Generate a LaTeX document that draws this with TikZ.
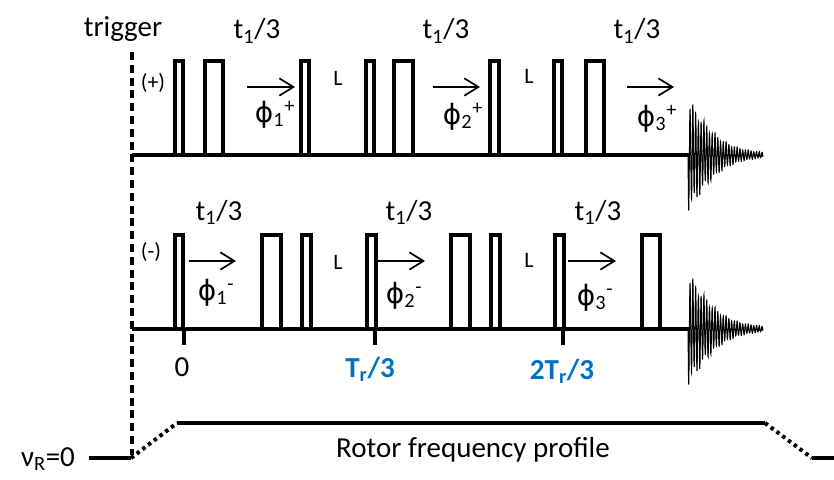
\documentclass[tikz,border=0pt]{standalone}
\usepackage{fontspec}
\setmainfont{Carlito}
\newfontfamily\phifont{DejaVu Sans}
\usetikzlibrary{arrows.meta,calc}

\definecolor{trblue}{HTML}{0070C0}

\newcommand{\phasesym}[2]{{\phifont\fontsize{21}{26}\selectfont ϕ}\textsubscript{#1}\textsuperscript{#2}}

\tikzset{
  lab/.style={inner sep=0pt,font=\fontsize{21.75}{26}\selectfont},
  smalllab/.style={inner sep=0pt,font=\fontsize{16.5}{20}\selectfont},
  bluelab/.style={inner sep=0pt,text=trblue,font=\bfseries\fontsize{21.75}{26}\selectfont},
  pulse/.style={line width=2.6pt,line join=miter},
  baseline/.style={line width=3pt},
  phasearrow/.style={line width=1.3pt,-{Straight Barb[length=10.5pt,width=13pt,line width=1.3pt]}},
}

\begin{document}
\begin{tikzpicture}[x=0.75pt,y=-0.75pt]

% ---------- Parameter ----------
\def\ybaseP{155}
\def\ybaseM{329}
\def\ytopP{61}
\def\ytopM{235}
\def\yrotor{423}
\def\yrest{458}

\useasboundingbox (0,0) rectangle (834,479);

% ===================
% oben: (+)
% ===================
\draw[baseline] (132,\ybaseP) -- (690,\ybaseP);
\foreach \a/\b in {175/183,205/223,301/309,366/374,394/413,490/499,554/562,586/604}
  \draw[pulse] (\a,\ybaseP) |- (\b,\ytopP) -- (\b,\ybaseP);

\draw[phasearrow] (247,87) -- (295,87);
\draw[phasearrow] (433,87) -- (480,87);
\draw[phasearrow] (627,87) -- (674,87);

\node[lab] (trigger) at (123,29) {trigger};
\node[smalllab] (plus) at (153,83) {(+)};
\node[lab] (tp1) at (257,31) {t\textsubscript{1}/3};
\node[lab] (tp2) at (446,31) {t\textsubscript{1}/3};
\node[lab] (tp3) at (637,31) {t\textsubscript{1}/3};
\node[smalllab] (Lp1) at (338,78) {L};
\node[smalllab] (Lp2) at (529,76) {L};
\node[lab] (php1) at (275,115) {\phasesym{1}{+}};
\node[lab] (php2) at (463,117) {\phasesym{2}{+}};
\node[lab] (php3) at (657,119) {\phasesym{3}{+}};

% ===================
% unten: (-)
% ===================
\draw[baseline] (132,\ybaseM) -- (690,\ybaseM);
\foreach \a/\b in {175/183,262/281,302/311,367/376,451/470,491/500,555/564,642/660}
  \draw[pulse] (\a,\ybaseM) |- (\b,\ytopM) -- (\b,\ybaseM);

\draw[phasearrow] (189,261) -- (236,261);
\draw[phasearrow] (378,261) -- (425,261);
\draw[phasearrow] (568,261) -- (616,261);

\node[smalllab] (minus) at (151,252) {(-)};
\node[lab] (tm1) at (219,212) {t\textsubscript{1}/3};
\node[lab] (tm2) at (409,212) {t\textsubscript{1}/3};
\node[lab] (tm3) at (598,212) {t\textsubscript{1}/3};
\node[smalllab] (Lm1) at (338,262) {L};
\node[smalllab] (Lm2) at (529,260) {L};
\node[lab] (phm1) at (216,293) {\phasesym{1}{-}};
\node[lab] (phm2) at (404,296) {\phasesym{2}{-}};
\node[lab] (phm3) at (595,298) {\phasesym{3}{-}};

% Zeitmarken
\foreach \x in {184,375,563}
  \draw[baseline] (\x,\ybaseM) -- (\x,345);

\node[lab] (zero) at (182,367) {0};
\node[bluelab] (tr1) at (370,369) {T\textsubscript{r}/3};
\node[bluelab] (tr2) at (562,371) {2T\textsubscript{r}/3};

% FIDs
\foreach \y in {\ybaseP,\ybaseM}
  \draw[line width=0.7pt,fill=black,domain=0:75,samples=400]
    plot ({688+\x},{\y+(2+55*exp(-((\x+0.01)/27)^1.3))*sin(130*\x)*(0.88+0.12*sin(97*\x))});

% Trigger
\draw[line width=3pt,dash pattern=on 6pt off 3.6pt] (132,52) -- (132,455);

% ===================
% Rotorprofil
% ===================
\draw[baseline] (89,\yrest) -- (131,\yrest);
\draw[line width=3pt,dash pattern=on 2.6pt off 2.8pt] (131,\yrest) -- (177,\yrotor);
\draw[baseline] (177,\yrotor) -- (765,\yrotor);
\draw[line width=3pt,dash pattern=on 2.6pt off 2.8pt] (765,\yrotor) -- (812,\yrest);
\draw[baseline] (812,\yrest) -- (834,\yrest);

\node[lab] (profile) at (473,450) {Rotor frequency profile};
\node[lab] (nu) at (48,459) {ν\textsubscript{R}=0};

\end{tikzpicture}
\end{document}
